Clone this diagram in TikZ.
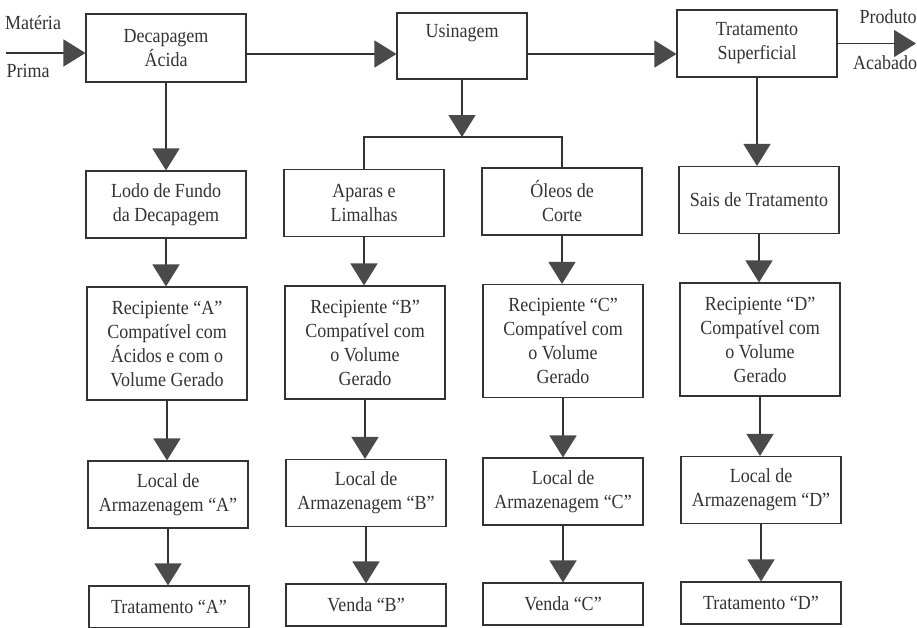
\documentclass[tikz,border=0pt]{standalone}
\usepackage{fontspec}
\setmainfont[FakeStretch=0.9]{Liberation Serif}
\usetikzlibrary{arrows.meta}
\definecolor{ink}{HTML}{333333}
\definecolor{headfill}{HTML}{4A4A4A}
\begin{document}
\begin{tikzpicture}[x=1pt,y=-1pt,
  box/.style={draw=ink, line width=1.1pt, minimum width=160pt, minimum height=67pt,
              inner sep=0pt, align=center, text=ink,
              font=\fontsize{20}{24}\selectfont},
  tall/.style={minimum height=113pt},
  short/.style={minimum height=42pt},
  flow/.style={draw=ink, line width=1.4pt,
               -{Triangle[width=27pt,length=22pt,fill=headfill,color=headfill]}},
  link/.style={draw=ink, line width=1.2pt},
  lbl/.style={font=\fontsize{20}{24}\selectfont, text=ink, inner sep=0pt}]
\useasboundingbox (0,0) rectangle (917,627);

% main process line
\node[box, minimum height=68pt] (dec) at (166,48) {Decapagem\\Ácida};
\node[box, minimum width=130pt, minimum height=66pt] (usi) at (462,46) {Usinagem\\\strut};
\node[box] (tra) at (757,43.5) {Tratamento\\Superficial};

\node[lbl] (mat) at (33,23) {Matéria};
\node[lbl] (pri) at (28,71) {Prima};
\node[lbl] (pro) at (888,17) {Produto};
\node[lbl] (aca) at (885,63) {Acabado};

% residues
\node[box] (lodo) at (166,204.5) {Lodo de Fundo\\da Decapagem};
\node[box] (apa)  at (364,203)   {Aparas e\\Limalhas};
\node[box] (ole)  at (562,201.5) {Óleos de\\Corte};
\node[box] (sais) at (759,200)   {Sais de Tratamento};

% containers
\node[box, tall] (recA) at (167,343.5) {Recipiente “A”\\Compatível com\\Ácidos e com o\\Volume Gerado};
\node[box, tall] (recB) at (365,342.5) {Recipiente “B”\\Compatível com\\o Volume\\Gerado};
\node[box, tall] (recC) at (563,341)   {Recipiente “C”\\Compatível com\\o Volume\\Gerado};
\node[box, tall] (recD) at (760,339.5) {Recipiente “D”\\Compatível com\\o Volume\\Gerado};

% storage
\node[box] (locA) at (168,494.5) {Local de\\Armazenagem “A”};
\node[box] (locB) at (366,493)   {Local de\\Armazenagem “B”};
\node[box] (locC) at (563,491.5) {Local de\\Armazenagem “C”};
\node[box] (locD) at (761,490)   {Local de\\Armazenagem “D”};

% destination
\node[box, short] (trA)  at (169,607) {Tratamento “A”};
\node[box, short] (venB) at (366,605) {Venda “B”};
\node[box, short] (venC) at (563,604) {Venda “C”};
\node[box, short] (trD)  at (761,603) {Tratamento “D”};

% horizontal flow
\coordinate (src) at (6,53);
\coordinate (main) at (0,54);
\coordinate (dst) at (916,43.5);
\draw[flow] (src) -- (src -| dec.west);
\draw[flow] (dec.east |- main) -- (usi.west |- main);
\draw[flow] (usi.east |- main) -- (tra.west |- main);
\draw[flow] (tra.east) -- (dst);

% column A
\draw[flow] (dec.south) -- (dec.south |- lodo.north);
\draw[flow] (lodo.south) -- (lodo.south |- recA.north);
\draw[flow] (recA.south) -- (recA.south |- locA.north);
\draw[flow] (locA.south) -- (locA.south |- trA.north);

% machining split into columns B and C
\coordinate (split) at (462,137);
\draw[flow] (usi.south) -- (usi.south |- split);
\draw[link] (apa.north) -- (apa.north |- split) -- (ole.north |- split) -- (ole.north);

\draw[flow] (apa.south) -- (apa.south |- recB.north);
\draw[flow] (recB.south) -- (recB.south |- locB.north);
\draw[flow] (locB.south) -- (locB.south |- venB.north);

\draw[flow] (ole.south) -- (ole.south |- recC.north);
\draw[flow] (recC.south) -- (recC.south |- locC.north);
\draw[flow] (locC.south) -- (locC.south |- venC.north);

% column D
\draw[flow] (tra.south) -- (tra.south |- sais.north);
\draw[flow] (sais.south) -- (sais.south |- recD.north);
\draw[flow] (recD.south) -- (recD.south |- locD.north);
\draw[flow] (locD.south) -- (locD.south |- trD.north);
\end{tikzpicture}
\end{document}
